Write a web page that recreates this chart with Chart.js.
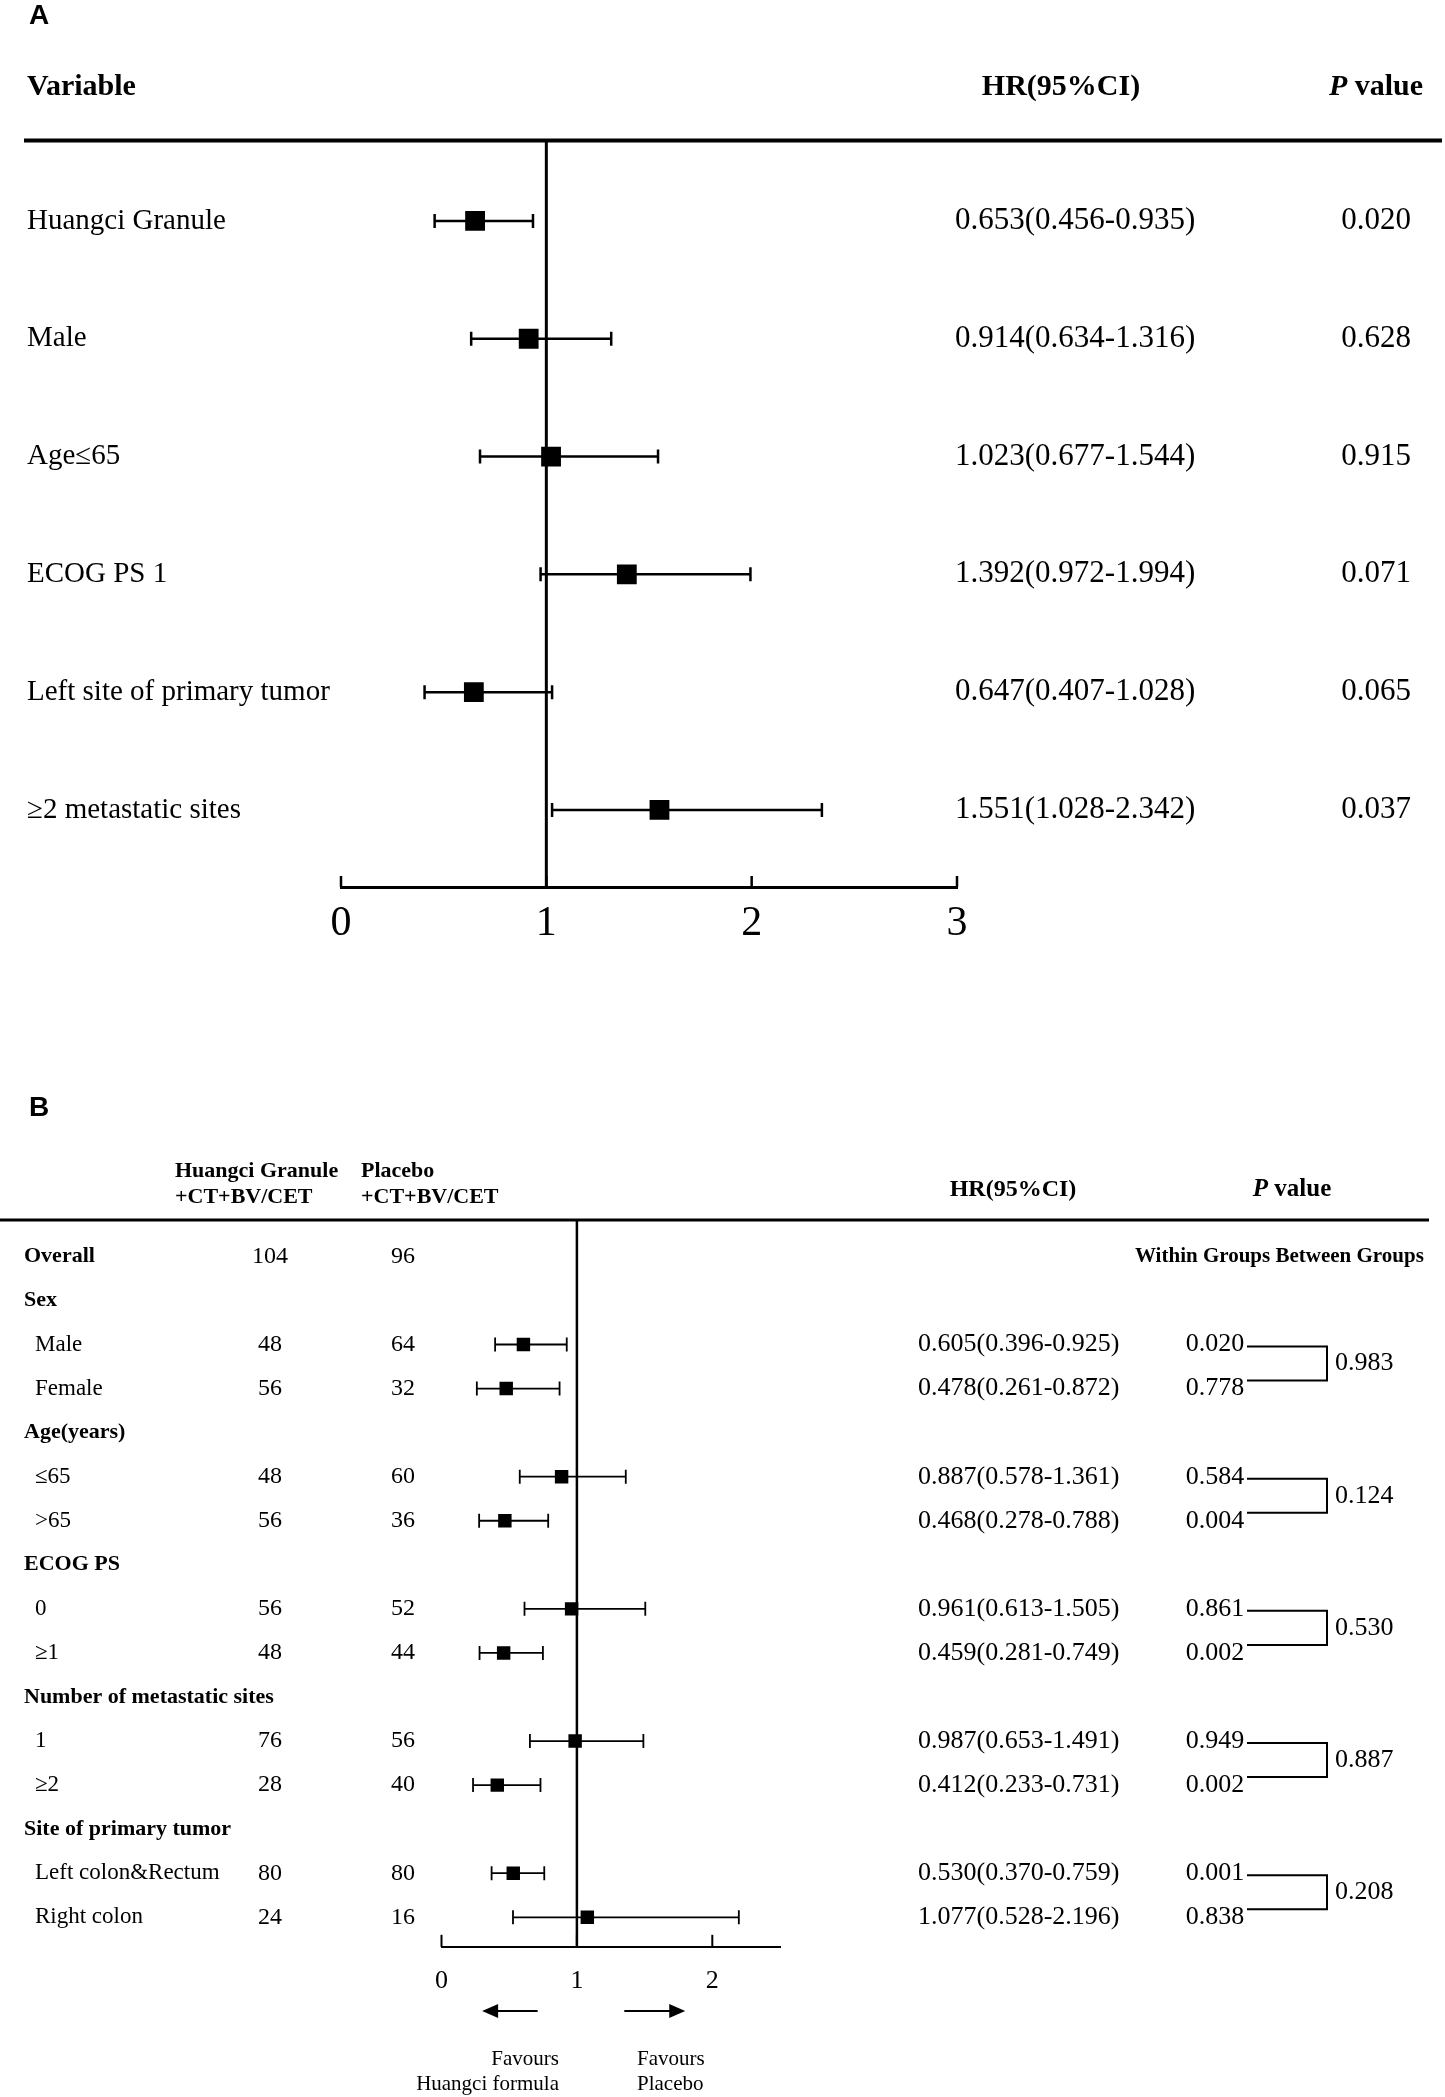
<!DOCTYPE html>
<html lang="en">
<head>
<meta charset="UTF-8">
<title>Forest plots</title>
<script src="https://cdn.jsdelivr.net/npm/chart.js"></script>
<style>
  body { margin: 0; background: #fff; }
  canvas { display: block; }
</style>
</head>
<body>
<canvas id="chartA" width="1445" height="1080"></canvas>
<canvas id="chartB" width="1445" height="1017"></canvas>
<script>
// ---- Panel A data ----
const aLabels = ['Huangci Granule', 'Male', 'Age≤65', 'ECOG PS 1', 'Left site of primary tumor', '≥2 metastatic sites'];
const aHR = [0.653, 0.914, 1.023, 1.392, 0.647, 1.551];
const aLow = [0.456, 0.634, 0.677, 0.972, 0.407, 1.028];
const aHigh = [0.935, 1.316, 1.544, 1.994, 1.028, 2.342];
const aP = ['0.020', '0.628', '0.915', '0.071', '0.065', '0.037'];

// ---- Panel B data ----
const bLabels = ['Overall', 'Sex', 'Male', 'Female', 'Age(years)', '≤65', '>65', 'ECOG PS', '0', '≥1',
  'Number of metastatic sites', '1', '≥2', 'Site of primary tumor', 'Left colon&Rectum', 'Right colon'];
const bHeading = [true, true, false, false, true, false, false, true, false, false, true, false, false, true, false, false];
const bGranule = [104, null, 48, 56, null, 48, 56, null, 56, 48, null, 76, 28, null, 80, 24];
const bPlacebo = [96, null, 64, 32, null, 60, 36, null, 52, 44, null, 56, 40, null, 80, 16];
const bHR = [null, null, 0.605, 0.478, null, 0.887, 0.468, null, 0.961, 0.459, null, 0.987, 0.412, null, 0.530, 1.077];
const bLow = [null, null, 0.396, 0.261, null, 0.578, 0.278, null, 0.613, 0.281, null, 0.653, 0.233, null, 0.370, 0.528];
const bHigh = [null, null, 0.925, 0.872, null, 1.361, 0.788, null, 1.505, 0.749, null, 1.491, 0.731, null, 0.759, 2.196];
const bPWithin = [null, null, '0.020', '0.778', null, '0.584', '0.004', null, '0.861', '0.002', null, '0.949', '0.002', null, '0.001', '0.838'];
const bPairs = [[2, 3], [5, 6], [8, 9], [11, 12], [14, 15]];
const bPBetween = ['0.983', '0.124', '0.530', '0.887', '0.208'];

const SERIF = '"Liberation Serif", "Times New Roman", serif';
const SANS = '"Liberation Sans", Arial, sans-serif';

function ciText(hr, lo, hi) {
  return hr.toFixed(3) + '(' + lo.toFixed(3) + '-' + hi.toFixed(3) + ')';
}

function line(ctx, x1, y1, x2, y2) {
  ctx.beginPath();
  ctx.moveTo(x1, y1);
  ctx.lineTo(x2, y2);
  ctx.stroke();
}

// "P value" with italic P, centred on cx
function drawPValue(ctx, cx, cy, size) {
  ctx.save();
  ctx.textAlign = 'left';
  ctx.font = 'italic bold ' + size + 'px ' + SERIF;
  const w1 = ctx.measureText('P').width;
  ctx.font = 'bold ' + size + 'px ' + SERIF;
  const w2 = ctx.measureText(' value').width;
  const start = cx - (w1 + w2) / 2;
  ctx.font = 'italic bold ' + size + 'px ' + SERIF;
  ctx.fillText('P', start, cy);
  ctx.font = 'bold ' + size + 'px ' + SERIF;
  ctx.fillText(' value', start + w1, cy);
  ctx.restore();
}

// markers, CI whiskers and the line of no effect
function forestDatasets(hr, lo, hi, opts) {
  const rows = hr.map((v, i) => (v == null ? -1 : i)).filter(i => i >= 0);
  const sets = [{
    data: rows.map(i => ({ x: hr[i], y: i })),
    pointStyle: 'rect',
    pointRadius: opts.marker,
    pointBorderWidth: 0,
    backgroundColor: '#000',
    borderColor: '#000',
    order: 0
  }];
  rows.forEach(i => sets.push({
    data: [{ x: lo[i], y: i }, { x: hi[i], y: i }],
    showLine: true,
    borderColor: '#000',
    borderWidth: opts.width,
    pointStyle: 'line',
    pointRotation: 90,
    pointRadius: opts.cap,
    pointBorderWidth: opts.width,
    pointBorderColor: '#000',
    order: 1
  }));
  sets.push({
    data: [{ x: 1, y: opts.yMin }, { x: 1, y: opts.yMax }],
    showLine: true,
    borderColor: '#000',
    borderWidth: opts.refWidth,
    pointRadius: 0,
    order: 2
  });
  return sets;
}

function baseOptions(xMax, yMin, yMax, tickSize, tickPad, axisH, padding, borderW) {
  return {
    responsive: false,
    animation: false,
    devicePixelRatio: 1,
    events: [],
    layout: { padding: padding },
    plugins: { legend: { display: false }, tooltip: { enabled: false } },
    scales: {
      x: {
        type: 'linear',
        min: 0,
        max: xMax,
        ticks: { stepSize: 1, includeBounds: false, color: '#000', padding: tickPad,
                 font: { family: SERIF, size: tickSize } },
        grid: { display: true, drawOnChartArea: false, drawTicks: false },
        border: { display: true, color: '#000', width: borderW },
        afterFit: s => { s.height = axisH; }
      },
      y: { type: 'linear', reverse: true, min: yMin, max: yMax, display: false }
    }
  };
}

function upTicks(ctx, x, bottom, len, w) {
  ctx.lineWidth = w;
  x.ticks.forEach(t => {
    const px = x.getPixelForValue(t.value);
    line(ctx, px, bottom, px, bottom - len);
  });
}

// ---------------- Panel A ----------------
const aYMin = -0.683, aYMax = 5.654;

const panelAText = {
  id: 'panelAText',
  afterDraw(chart) {
    const { ctx, chartArea } = chart;
    const { x, y } = chart.scales;
    ctx.save();
    ctx.fillStyle = '#000';
    ctx.strokeStyle = '#000';
    ctx.textBaseline = 'middle';

    ctx.font = 'bold 28px ' + SANS;
    ctx.fillText('A', 29, 16);

    ctx.font = 'bold 30px ' + SERIF;
    ctx.fillText('Variable', 27, 87);
    ctx.textAlign = 'center';
    ctx.fillText('HR(95%CI)', 1061, 87);
    drawPValue(ctx, 1376, 87, 30);

    ctx.lineWidth = 4;
    line(ctx, 24, 140.5, 1442, 140.5);

    aLabels.forEach((label, i) => {
      const py = y.getPixelForValue(i);
      ctx.textAlign = 'left';
      ctx.font = '29px ' + SERIF;
      ctx.fillText(label, 27, py);
      ctx.font = '31px ' + SERIF;
      ctx.fillText(ciText(aHR[i], aLow[i], aHigh[i]), 955, py);
      ctx.textAlign = 'center';
      ctx.fillText(aP[i], 1376, py);
    });

    upTicks(ctx, x, chartArea.bottom, 11, 2.5);
    ctx.restore();
  }
};

new Chart(document.getElementById('chartA'), {
  type: 'scatter',
  data: { datasets: forestDatasets(aHR, aLow, aHigh, { marker: 14, width: 2.5, cap: 7, refWidth: 3, yMin: aYMin, yMax: aYMax }) },
  options: baseOptions(3, aYMin, aYMax, 42, 12, 60, { left: 341, right: 488, top: 140.5, bottom: 133 }, 3),
  plugins: [panelAText]
});

// ---------------- Panel B ----------------
const bYMin = -0.826, bYMax = 15.67;

const panelBText = {
  id: 'panelBText',
  afterDraw(chart) {
    const { ctx, chartArea } = chart;
    const { x, y } = chart.scales;
    ctx.save();
    ctx.fillStyle = '#000';
    ctx.strokeStyle = '#000';
    ctx.textBaseline = 'middle';

    ctx.font = 'bold 28px ' + SANS;
    ctx.fillText('B', 29, 28);

    ctx.font = 'bold 22px ' + SERIF;
    ctx.fillText('Huangci Granule', 175, 91);
    ctx.fillText('+CT+BV/CET', 175, 117.5);
    ctx.fillText('Placebo', 361, 91);
    ctx.fillText('+CT+BV/CET', 361, 117.5);
    ctx.font = 'bold 24px ' + SERIF;
    ctx.textAlign = 'center';
    ctx.fillText('HR(95%CI)', 1013, 109.5);
    drawPValue(ctx, 1292, 109.5, 25);

    ctx.lineWidth = 3;
    line(ctx, 0, 140, 1429, 140);

    ctx.textAlign = 'left';
    ctx.font = 'bold 21px ' + SERIF;
    ctx.fillText('Within Groups Between Groups', 1135, y.getPixelForValue(0));

    bLabels.forEach((label, i) => {
      const py = y.getPixelForValue(i);
      ctx.textAlign = 'left';
      if (bHeading[i]) {
        ctx.font = 'bold 22px ' + SERIF;
        ctx.fillText(label, 24, py);
      } else {
        ctx.font = '23px ' + SERIF;
        ctx.fillText(label, 35, py);
      }
      ctx.font = '24px ' + SERIF;
      ctx.textAlign = 'center';
      if (bGranule[i] != null) ctx.fillText(String(bGranule[i]), 270, py);
      if (bPlacebo[i] != null) ctx.fillText(String(bPlacebo[i]), 403, py);
      if (bHR[i] != null) {
        ctx.font = '26px ' + SERIF;
        ctx.textAlign = 'left';
        ctx.fillText(ciText(bHR[i], bLow[i], bHigh[i]), 918, py);
        ctx.textAlign = 'center';
        ctx.fillText(bPWithin[i], 1215, py);
      }
    });

    // brackets joining subgroup pairs
    ctx.lineWidth = 2;
    ctx.font = '26px ' + SERIF;
    ctx.textAlign = 'left';
    bPairs.forEach((pair, k) => {
      const y1 = y.getPixelForValue(pair[0]) + 2;
      const y2 = y.getPixelForValue(pair[1]) - 8;
      ctx.beginPath();
      ctx.moveTo(1247, y1);
      ctx.lineTo(1327, y1);
      ctx.lineTo(1327, y2);
      ctx.lineTo(1247, y2);
      ctx.stroke();
      ctx.fillText(bPBetween[k], 1335, (y1 + y2) / 2);
    });

    upTicks(ctx, x, chartArea.bottom, 12, 2);

    // direction arrows
    const ay = 931;
    const arrow = (from, to) => {
      const x1 = x.getPixelForValue(from), x2 = x.getPixelForValue(to);
      const dir = Math.sign(x2 - x1);
      ctx.lineWidth = 2;
      line(ctx, x1, ay, x2 - dir * 8, ay);
      ctx.beginPath();
      ctx.moveTo(x2, ay);
      ctx.lineTo(x2 - dir * 16, ay - 7);
      ctx.lineTo(x2 - dir * 16, ay + 7);
      ctx.closePath();
      ctx.fill();
    };
    arrow(0.71, 0.30);
    arrow(1.35, 1.80);

    ctx.font = '21px ' + SERIF;
    ctx.textAlign = 'right';
    ctx.fillText('Favours', 559, 979);
    ctx.fillText('Huangci formula', 559, 1004);
    ctx.textAlign = 'left';
    ctx.fillText('Favours', 637, 979);
    ctx.fillText('Placebo', 637, 1004);

    ctx.restore();
  }
};

new Chart(document.getElementById('chartB'), {
  type: 'scatter',
  data: { datasets: forestDatasets(bHR, bLow, bHigh, { marker: 9.5, width: 1.8, cap: 7, refWidth: 2.5, yMin: bYMin, yMax: bYMax }) },
  options: baseOptions(2.5, bYMin, bYMax, 26, 19, 50, { left: 441.5, right: 665, top: 140, bottom: 100.2 }, 2),
  plugins: [panelBText]
});
</script>
</body>
</html>
